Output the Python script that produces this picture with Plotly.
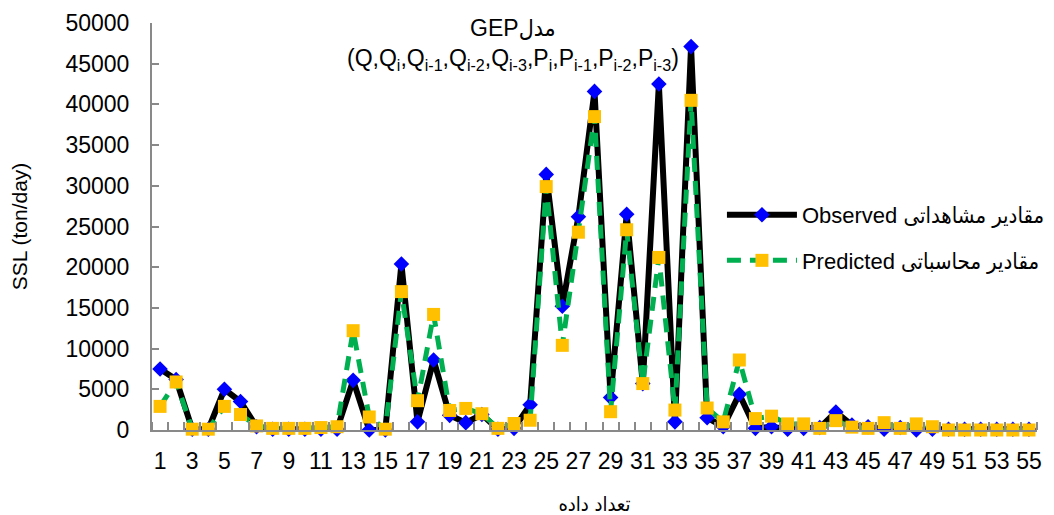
import plotly.graph_objects as go

categories = [1, 2, 3, 4, 5, 6, 7, 8, 9, 10, 11, 12, 13, 14, 15, 16, 17, 18, 19, 20,
              21, 22, 23, 24, 25, 26, 27, 28, 29, 30, 31, 32, 33, 34, 35, 36, 37, 38, 39, 40,
              41, 42, 43, 44, 45, 46, 47, 48, 49, 50, 51, 52, 53, 54, 55]

observed = [7500, 6200, 100, 100, 5000, 3500, 400, 100, 100, 100,
            100, 100, 6100, 0, 0, 20400, 1000, 8600, 1800, 900,
            1900, 100, 200, 3100, 31400, 15200, 26200, 41600, 4000, 26500,
            5700, 42500, 1000, 47100, 1500, 400, 4400, 200, 400, 100,
            200, 300, 2200, 600, 400, 100, 300, 0, 100, 100,
            100, 100, 100, 100, 100]

predicted = [2900, 5900, 100, 100, 2900, 1900, 500, 200, 200, 200,
             300, 400, 12200, 1600, 100, 17000, 3600, 14200, 2400, 2650,
             2000, 200, 800, 1200, 29900, 10400, 24300, 38500, 2250, 24600,
             5700, 21200, 2450, 40500, 2700, 1000, 8600, 1400, 1700, 750,
             750, 200, 1150, 350, 200, 900, 200, 750, 400, 0,
             0, 0, 0, 0, 0]

x_ticks = [1, 3, 5, 7, 9, 11, 13, 15, 17, 19, 21, 23, 25, 27, 29, 31, 33, 35, 37, 39,
           41, 43, 45, 47, 49, 51, 53, 55]
y_ticks = [0, 5000, 10000, 15000, 20000, 25000, 30000, 35000, 40000, 45000, 50000]

name_obs = "Observed مقادیر مشاهداتی"
name_pred = "Predicted مقادیر محاسباتی"
title_text = ("GEPمدل<br>(Q,Q<sub>i</sub>,Q<sub>i-1</sub>,Q<sub>i-2</sub>,Q<sub>i-3</sub>,"
              "P<sub>i</sub>,P<sub>i-1</sub>,P<sub>i-2</sub>,P<sub>i-3</sub>)")
x_title = "تعداد داده"
y_title = "SSL (ton/day)"

FONT = "Liberation Sans, DejaVu Sans Condensed, DejaVu Sans, sans-serif"
GRAY = "#898989"

fig = go.Figure()
fig.add_trace(go.Scatter(
    x=categories, y=observed, name=name_obs, mode="lines+markers",
    line=dict(color="black", width=6),
    marker=dict(symbol="diamond", size=12, color="#0000FF", line=dict(width=0)),
    cliponaxis=False, legendgroup="a",
))
fig.add_trace(go.Scatter(
    x=categories, y=predicted, name=name_pred, mode="lines+markers",
    line=dict(color="#00B050", width=5, dash="14px,9px"),
    marker=dict(symbol="square", size=13, color="#FFC000", line=dict(width=0)),
    cliponaxis=False, legendgroup="b",
))

fig.update_layout(
    width=1054, height=515,
    margin=dict(l=152, r=17, t=23, b=85, autoexpand=False),
    paper_bgcolor="white", plot_bgcolor="white",
    font=dict(family=FONT, size=23, color="black"),
    showlegend=True,
    legend=dict(
        x=0.644, y=0.58, xanchor="left", yanchor="top",
        bgcolor="rgba(0,0,0,0)", itemwidth=70,
        traceorder="grouped", tracegroupgap=14,
        font=dict(family=FONT, size=22, color="black"),
    ),
    xaxis=dict(
        range=[0.5, 55.5], tickmode="array", tickvals=x_ticks,
        ticktext=[str(v) for v in x_ticks],
        ticks="", showgrid=False, zeroline=False, automargin=False,
        showline=True, linecolor=GRAY, linewidth=2,
        minor=dict(ticks="inside", tick0=0.5, dtick=1, ticklen=8,
                   tickcolor=GRAY, tickwidth=2, showgrid=False),
        tickfont=dict(size=23), ticklabelstandoff=9,
        title=dict(text=x_title, standoff=30, font=dict(size=20)),
    ),
    yaxis=dict(
        range=[0, 50000], tickmode="array", tickvals=y_ticks,
        ticktext=[str(v) for v in y_ticks],
        ticks="inside", ticklen=7, tickcolor=GRAY, tickwidth=2,
        showgrid=False, zeroline=False, automargin=False,
        showline=True, linecolor=GRAY, linewidth=2,
        tickfont=dict(size=23), ticklabelstandoff=16,
        title=dict(text=y_title, standoff=32, font=dict(size=21)),
    ),
    annotations=[dict(
        text=title_text, xref="paper", yref="paper",
        x=0.408, y=1.025, xanchor="center", yanchor="top",
        showarrow=False, font=dict(family=FONT, size=23, color="black"),
    )],
)

fig.write_html("out.html", config={"displayModeBar": False},
               post_script="document.body.style.margin='0px';")
